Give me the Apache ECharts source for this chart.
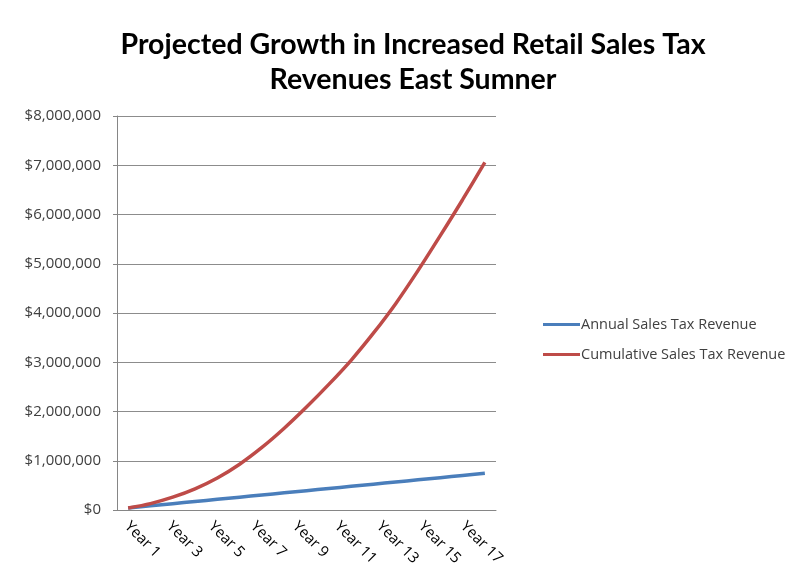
<!DOCTYPE html>
<html>
<head>
<meta charset="utf-8">
<script src="https://cdn.jsdelivr.net/npm/echarts@6/dist/echarts.min.js"></script>
<style>
  html, body { margin: 0; padding: 0; background: #fff; }
  #chart { width: 791px; height: 575px; }
</style>
</head>
<body>
<div id="chart"></div>
<script>
var years = ['Year 1', 'Year 2', 'Year 3', 'Year 4', 'Year 5', 'Year 6', 'Year 7', 'Year 8', 'Year 9',
  'Year 10', 'Year 11', 'Year 12', 'Year 13', 'Year 14', 'Year 15', 'Year 16', 'Year 17'];

var annualRevenue = [40000, 84000, 128000, 172000, 216000, 260000, 304000, 348000, 392000,
  436000, 480000, 524000, 568000, 612000, 656000, 700000, 744000];
var cumulativeRevenue = [40000, 130000, 260000, 430000, 650000, 930000, 1270000, 1660000, 2090000,
  2550000, 3040000, 3590000, 4190000, 4860000, 5570000, 6300000, 7060000];

var yTicks = { min: 0, max: 8000000, interval: 1000000 };

function money(v) {
  return '$' + String(v).replace(/\B(?=(\d{3})+(?!\d))/g, ',');
}

var chart = echarts.init(document.getElementById('chart'));

var labelFont = { fontFamily: 'Open Sans', fontSize: 15 };

var option = {
  backgroundColor: '#fff',
  animation: false,
  title: {
    text: 'Projected Growth in Increased Retail Sales Tax\nRevenues East Sumner',
    left: 408,
    top: 22,
    textAlign: 'center',
    textStyle: {
      fontFamily: 'Lato',
      fontWeight: 'bold',
      fontSize: 28.5,
      lineHeight: 35,
      color: '#000'
    }
  },
  legend: {
    orient: 'vertical',
    left: 543,
    top: 317,
    padding: 0,
    icon: 'rect',
    itemWidth: 37,
    itemHeight: 3,
    itemGap: 15,
    textStyle: { fontFamily: 'Open Sans', fontSize: 14.5, color: '#404040', padding: [0, 0, 0, -4] },
    data: ['Annual Sales Tax Revenue', 'Cumulative Sales Tax Revenue']
  },
  grid: [
    { left: 117, right: 295, top: 116, bottom: 65 },
    // labels in the original sit a bit tighter than the categories
    { left: 116.5, width: 357, top: 116, bottom: 65 }
  ],
  xAxis: [
    {
      type: 'category',
      data: years,
      boundaryGap: true,
      axisLine: { lineStyle: { color: '#868686', width: 1 } },
      axisTick: { show: false },
      axisLabel: { show: false }
    },
    {
      type: 'category',
      gridIndex: 1,
      data: years,
      boundaryGap: true,
      axisLine: { show: false },
      axisTick: { show: false },
      axisLabel: {
        interval: 1,
        rotate: -45,
        margin: 14,
        fontFamily: labelFont.fontFamily,
        fontSize: labelFont.fontSize,
        color: '#000'
      }
    }
  ],
  yAxis: [
    {
      type: 'value',
      min: yTicks.min,
      max: yTicks.max,
      interval: yTicks.interval,
      axisLine: { show: true, lineStyle: { color: '#868686', width: 1 } },
      axisTick: { show: true, length: 4, lineStyle: { color: '#868686' } },
      splitLine: { lineStyle: { color: '#8c8c8c', width: 1 } },
      axisLabel: {
        formatter: money,
        margin: 16,
        fontFamily: labelFont.fontFamily,
        fontSize: labelFont.fontSize,
        color: '#404040'
      }
    },
    {
      type: 'value',
      gridIndex: 1,
      min: yTicks.min,
      max: yTicks.max,
      show: false
    }
  ],
  series: [
    {
      name: 'Annual Sales Tax Revenue',
      type: 'line',
      data: annualRevenue,
      symbol: 'none',
      smooth: 0.3,
      lineStyle: { color: '#4A7EBB', width: 3.5 },
      itemStyle: { color: '#4A7EBB' }
    },
    {
      name: 'Cumulative Sales Tax Revenue',
      type: 'line',
      data: cumulativeRevenue,
      symbol: 'none',
      smooth: 0.3,
      lineStyle: { color: '#BE4B48', width: 3.5 },
      itemStyle: { color: '#BE4B48' }
    }
  ]
};

chart.setOption(option);
</script>
</body>
</html>
